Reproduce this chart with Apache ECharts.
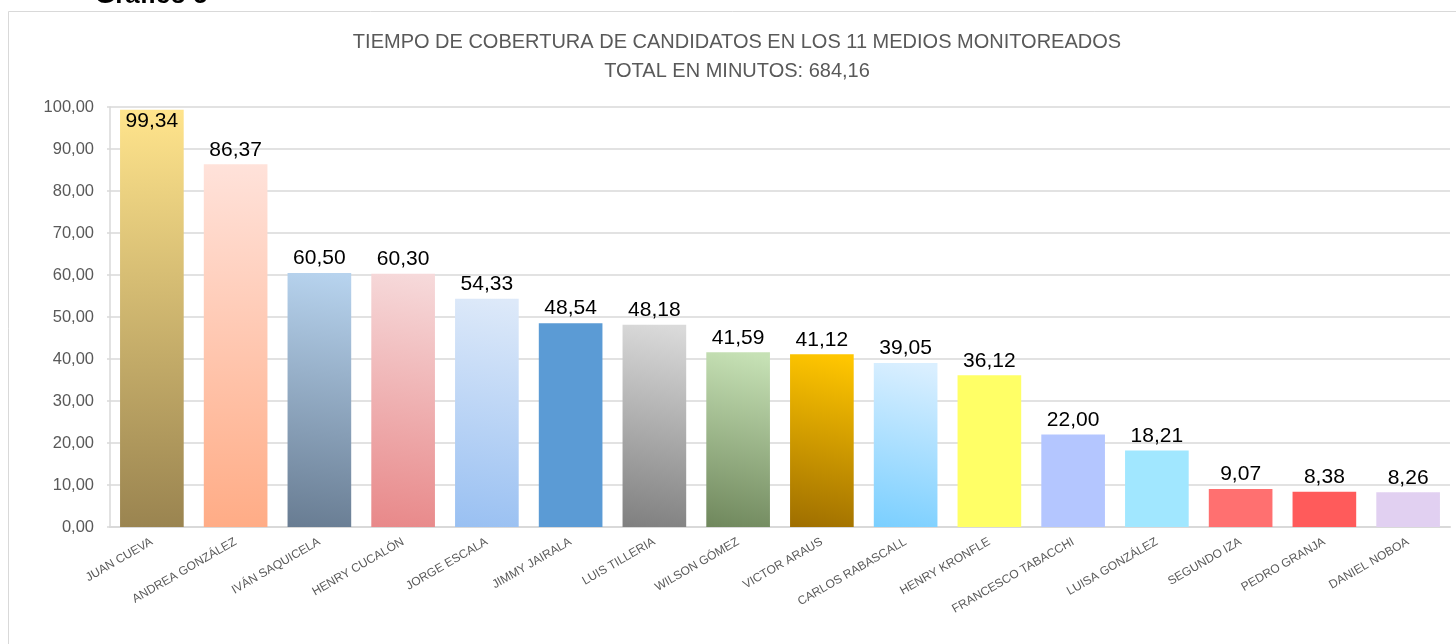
<!DOCTYPE html>
<html>
<head>
<meta charset="utf-8">
<script src="https://cdn.jsdelivr.net/npm/echarts@6/dist/echarts.min.js"></script>
<style>
html,body{margin:0;padding:0;background:#fff;}
#c{width:1456px;height:644px;}
</style>
</head>
<body>
<div id="c"></div>
<script>
const categories = ['JUAN CUEVA','ANDREA GONZÁLEZ','IVÁN SAQUICELA','HENRY CUCALÓN','JORGE ESCALA','JIMMY JAIRALA','LUIS TILLERIA','WILSON GÓMEZ','VICTOR ARAUS','CARLOS RABASCALL','HENRY KRONFLE','FRANCESCO TABACCHI','LUISA GONZÁLEZ','SEGUNDO IZA','PEDRO GRANJA','DANIEL NOBOA'];
const minutes = [99.34, 86.37, 60.50, 60.30, 54.33, 48.54, 48.18, 41.59, 41.12, 39.05, 36.12, 22.00, 18.21, 9.07, 8.38, 8.26];
const yTicks = [0, 10, 20, 30, 40, 50, 60, 70, 80, 90, 100];
const titleLines = ['TIEMPO DE COBERTURA DE CANDIDATOS EN LOS 11 MEDIOS MONITOREADOS', 'TOTAL EN MINUTOS: 684,16'];
const heading = 'Gráfico 5';

// bar colours: [top, bottom, diagonal?]
const barColors = [
  ['#FFE48C', '#9A8450', false],
  ['#FFE2DA', '#FFAC86', false],
  ['#B7D3EE', '#687C92', true],
  ['#F6D9DA', '#E88889', true],
  ['#DDE9F9', '#99C0F2', true],
  ['#5B9BD5', '#5B9BD5', false],
  ['#DADADA', '#7F7F7F', true],
  ['#C6E1B5', '#6F875C', true],
  ['#FFC600', '#9E6E00', true],
  ['#DAEFFF', '#7ACFFF', true],
  ['#FFFF66', '#FFFF66', false],
  ['#B4C6FF', '#B4C6FF', false],
  ['#A1E7FF', '#A1E7FF', false],
  ['#FF7070', '#FF7070', false],
  ['#FF5B5B', '#FF5B5B', false],
  ['#E1D0F1', '#E1D0F1', false]
];

const fmt = v => v.toFixed(2).replace('.', ',');

const seriesData = minutes.map((v, i) => {
  const c = barColors[i];
  const item = {
    value: v,
    itemStyle: {
      color: new echarts.graphic.LinearGradient(c[2] ? 0.6 : 0, 0, 0, 1, [
        {offset: 0, color: c[0]}, {offset: 1, color: c[1]}
      ])
    }
  };
  if (i === 0) item.label = {position: 'insideTop', distance: 1};
  return item;
});

const chart = echarts.init(document.getElementById('c'), null, {renderer: 'canvas'});
chart.setOption({
  animation: false,
  backgroundColor: '#fff',
  graphic: [
    {type: 'rect', shape: {x: 8.5, y: 11.5, width: 1470, height: 660}, style: {fill: 'none', stroke: '#d9d9d9', lineWidth: 1}, z: -1},
    {type: 'text', x: 95, y: 9, style: {text: heading, font: 'bold 26px "Liberation Sans", Arial, sans-serif', fill: '#000', textVerticalAlign: 'bottom'}},
    {type: 'text', x: 737, y: 42, style: {text: titleLines[0], font: '20px "Liberation Sans Narrow", "Liberation Sans", sans-serif', fill: '#595959', textAlign: 'center', textVerticalAlign: 'middle'}},
    {type: 'text', x: 737, y: 71, style: {text: titleLines[1], font: '20px "Liberation Sans Narrow", "Liberation Sans", sans-serif', fill: '#595959', textAlign: 'center', textVerticalAlign: 'middle'}}
  ],
  grid: {left: 110, right: 6, top: 107, bottom: 117, containLabel: false},
  xAxis: {
    type: 'category',
    data: categories,
    axisLine: {show: true, lineStyle: {color: '#d9d9d9', width: 2}},
    axisTick: {show: false},
    axisLabel: {
      rotate: 30, interval: 0, margin: 14,
      fontSize: 12, color: '#595959',
      fontFamily: '"Liberation Sans Narrow", "Liberation Sans", sans-serif'
    }
  },
  yAxis: {
    type: 'value',
    min: yTicks[0], max: yTicks[yTicks.length - 1], interval: 10,
    axisLine: {show: true, lineStyle: {color: '#d9d9d9', width: 1.5}},
    axisTick: {show: true, length: 3, lineStyle: {color: '#d9d9d9', width: 1.5}},
    splitLine: {show: true, lineStyle: {color: '#d9d9d9', width: 1.5}},
    axisLabel: {
      margin: 16, fontSize: 16.5, color: '#595959',
      fontFamily: '"Liberation Sans", sans-serif',
      formatter: v => fmt(v)
    }
  },
  series: [{
    type: 'bar',
    data: seriesData,
    barCategoryGap: '24%',
    label: {
      show: true, position: 'top', distance: 4,
      fontSize: 21, color: '#000',
      fontFamily: '"Liberation Sans", sans-serif',
      formatter: p => fmt(p.value)
    }
  }]
});
</script>
</body>
</html>
